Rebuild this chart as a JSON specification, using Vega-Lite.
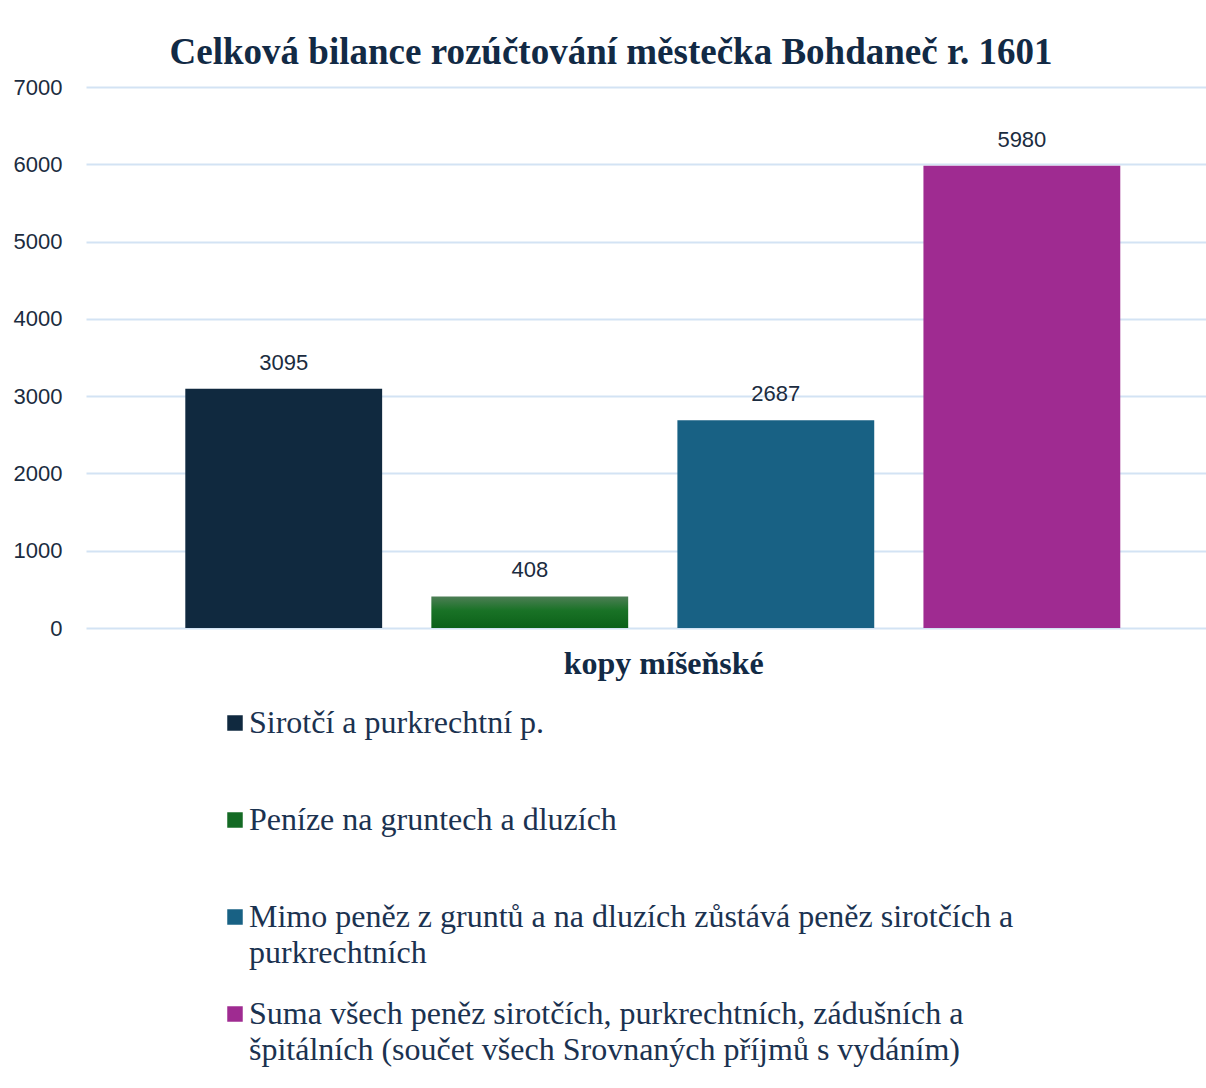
{
  "$schema": "https://vega.github.io/schema/vega-lite/v6.json",
  "autosize": {"type": "none"},
  "width": 1120,
  "height": 541,
  "padding": {"left": 86, "top": 87, "right": 0, "bottom": 460},
  "background": "white",
  "config": {
    "view": {"stroke": null},
    "style": {"guide-label": {"lineHeight": 36}}
  },
  "title": {
    "text": "Celková bilance rozúčtování městečka Bohdaneč r. 1601",
    "font": "Liberation Serif",
    "fontSize": 37,
    "fontWeight": "bold",
    "color": "#122a45",
    "anchor": "middle",
    "dx": -35,
    "offset": 4
  },
  "data": {
    "values": [
      {"cat": "kopy míšeňské", "series": "Sirotčí a purkrechtní p.", "value": 3095},
      {"cat": "kopy míšeňské", "series": "Peníze na gruntech a dluzích", "value": 408},
      {"cat": "kopy míšeňské", "series": "Mimo peněz z gruntů a na dluzích zůstává peněz sirotčích a purkrechtních", "value": 2687},
      {"cat": "kopy míšeňské", "series": "Suma všech peněz  sirotčích, purkrechtních, zádušních a špitálních (součet všech Srovnaných příjmů s vydáním)", "value": 5980}
    ]
  },
  "encoding": {
    "x": {
      "field": "cat",
      "type": "nominal",
      "scale": {"paddingInner": 0, "paddingOuter": 0.069, "align": 0.55},
      "axis": {
        "title": null,
        "labelAngle": 0,
        "labelFont": "Liberation Serif",
        "labelFontSize": 32,
        "labelFontWeight": "bold",
        "labelColor": "#122a45",
        "labelPadding": 20,
        "labelBaseline": "top",
        "labelOffset": 11,
        "labelLimit": 0,
        "domain": false,
        "ticks": false
      }
    },
    "xOffset": {
      "field": "series",
      "type": "nominal",
      "sort": null,
      "scale": {"paddingInner": 0.2, "paddingOuter": 0.1}
    },
    "y": {
      "field": "value",
      "type": "quantitative",
      "scale": {"domain": [0, 7000]},
      "axis": {
        "title": null,
        "values": [0, 1000, 2000, 3000, 4000, 5000, 6000, 7000],
        "format": "d",
        "labelFont": "Liberation Sans",
        "labelFontSize": 22,
        "labelColor": "#1b2c40",
        "labelPadding": 24,
        "domain": false,
        "ticks": false,
        "grid": true,
        "gridColor": "#d3e3f4",
        "gridWidth": 2
      }
    }
  },
  "layer": [
    {
      "mark": {"type": "bar"},
      "encoding": {
        "color": {
          "field": "series",
          "type": "nominal",
          "sort": null,
          "scale": {
            "domain": [
              "Sirotčí a purkrechtní p.",
              "Peníze na gruntech a dluzích",
              "Mimo peněz z gruntů a na dluzích zůstává peněz sirotčích a purkrechtních",
              "Suma všech peněz  sirotčích, purkrechtních, zádušních a špitálních (součet všech Srovnaných příjmů s vydáním)"
            ],
            "range": ["#10293f", "#146a24", "#186184", "#9f2b91"]
          },
          "condition": {
            "test": "datum.series === 'Peníze na gruntech a dluzích'",
            "value": {
              "gradient": "linear",
              "x1": 0, "y1": 0, "x2": 0, "y2": 1,
              "stops": [
                {"offset": 0, "color": "#4d7e55"},
                {"offset": 0.45, "color": "#197226"},
                {"offset": 1, "color": "#0c6119"}
              ]
            }
          },
          "legend": {
            "title": null,
            "orient": "none",
            "legendX": 133,
            "legendY": 620,
            "direction": "vertical",
            "symbolType": "square",
            "symbolSize": 240,
            "symbolStrokeWidth": 0,
            "labelFont": "Liberation Serif",
            "labelFontSize": 32,
            "labelColor": "#1b3250",
            "labelLimit": 0,
            "labelOffset": -2,
            "rowPadding": 29,
            "labelExpr": "datum.label === 'Mimo peněz z gruntů a na dluzích zůstává peněz sirotčích a purkrechtních' ? ['Mimo peněz z gruntů a na dluzích zůstává peněz sirotčích a', 'purkrechtních'] : datum.label === 'Peníze na gruntech a dluzích' ? [datum.label, ''] : datum.label === 'Sirotčí a purkrechtní p.' ? [datum.label, ''] : ['Suma všech peněz  sirotčích, purkrechtních, zádušních a', 'špitálních (součet všech Srovnaných příjmů s vydáním)']"
          }
        }
      }
    },
    {
      "mark": {
        "type": "text",
        "baseline": "bottom",
        "dy": -14,
        "font": "Liberation Sans",
        "fontSize": 22,
        "color": "#1b2c40"
      },
      "encoding": {
        "text": {"field": "value", "type": "quantitative", "format": "d"}
      }
    }
  ]
}
